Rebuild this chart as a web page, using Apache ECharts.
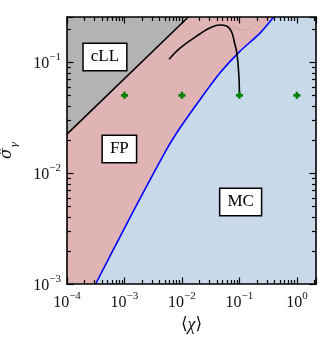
<!DOCTYPE html>
<html>
<head>
<meta charset="utf-8">
<script src="https://cdn.jsdelivr.net/npm/echarts@6/dist/echarts.min.js"></script>
<style>
html, body { margin: 0; padding: 0; background: #fff; }
#chart { width: 332px; height: 349px; }
</style>
</head>
<body>
<div id="chart"></div>
<script>
var X_MIN = 1e-4, X_MAX = 2.15, Y_MIN = 1e-3, Y_MAX = 0.254;

// cLL boundary (black straight line)
var cllX = [1e-4, 0.0129];
var cllY = [0.0224, 0.254];

// FP / MC boundary (blue curve)
var mcX = [3.15e-4, 1.09e-3, 5.38e-3, 9.16e-3, 0.0204, 0.0453, 0.1007, 0.2244, 0.395];
var mcY = [1.0e-3, 3.47e-3, 0.0162, 0.0253, 0.0455, 0.0791, 0.124, 0.18, 0.254];

// black trajectory ending at the marker (0.1, 0.05)
var pathX = [5.97e-3, 9.16e-3, 0.0204, 0.0304, 0.0453, 0.060, 0.0733, 0.0826, 0.0905, 0.098, 0.1];
var pathY = [0.1057, 0.1327, 0.1786, 0.2023, 0.2155, 0.211, 0.186, 0.147, 0.1197, 0.0738, 0.05];

// faint contour near the top
var faintX = [0.0676, 0.09, 0.123, 0.16, 0.199];
var faintY = [0.215, 0.2, 0.194, 0.205, 0.234];

// green markers
var pointX = [1e-3, 1e-2, 1e-1, 1];
var pointY = [0.05, 0.05, 0.05, 0.05];

// region labels
var regionNames = ['cLL', 'FP', 'MC'];
var regionX = [4.57e-4, 8.15e-4, 0.105];
var regionY = [0.111, 0.01644, 5.48e-3];

// tick positions
var xMajor = [1e-4, 1e-3, 1e-2, 1e-1, 1];
var yMajor = [1e-3, 1e-2, 1e-1];
var xMinor = [], yMinor = [];
for (var d = -4; d <= 0; d++) {
    for (var k = 2; k <= 9; k++) {
        var v = k * Math.pow(10, d);
        if (v < X_MAX) xMinor.push(v);
    }
}
for (var d2 = -3; d2 <= -1; d2++) {
    for (var k2 = 2; k2 <= 9; k2++) {
        var v2 = k2 * Math.pow(10, d2);
        if (v2 < Y_MAX) yMinor.push(v2);
    }
}

function zip(a, b) {
    return a.map(function (x, i) { return [x, b[i]]; });
}

var FONT = '"Liberation Serif", "DejaVu Serif", serif';

function powLabel(val) {
    var e = Math.log10(val);
    var r = Math.round(e);
    if (Math.abs(e - r) > 1e-6) return '';
    return '{b|10}{s|' + String(r).replace('-', '\u2212') + '}';
}

var labelRich = {
    b: { fontSize: 16, fontFamily: FONT, color: '#111', lineHeight: 20, verticalAlign: 'bottom' },
    s: { fontSize: 11, fontFamily: FONT, color: '#111', lineHeight: 12, verticalAlign: 'top' }
};

var MINOR_LEN = 4;

// one short line per minor tick; side gives the edge and direction
function minorTickSeries(values, side) {
    var horiz = side === 'bottom' || side === 'top';
    return {
        type: 'custom', z: 20, clip: false, silent: true,
        data: values.map(function (val) {
            return horiz ? [val, side === 'bottom' ? Y_MIN : Y_MAX]
                         : [side === 'left' ? X_MIN : X_MAX, val];
        }),
        renderItem: function (params, api) {
            var val = values[params.dataIndex];
            var p, shape;
            if (horiz) {
                p = api.coord([val, side === 'bottom' ? Y_MIN : Y_MAX]);
                var x = Math.round(p[0]) + 0.5;
                var dy = side === 'bottom' ? -MINOR_LEN : MINOR_LEN;
                shape = { x1: x, y1: p[1], x2: x, y2: p[1] + dy };
            } else {
                p = api.coord([side === 'left' ? X_MIN : X_MAX, val]);
                var y = Math.round(p[1]) + 0.5;
                var dx = side === 'left' ? MINOR_LEN : -MINOR_LEN;
                shape = { x1: p[0], y1: y, x2: p[0] + dx, y2: y };
            }
            return { type: 'line', shape: shape, style: { stroke: '#000', lineWidth: 1.2 } };
        }
    };
}

var dom = document.getElementById('chart');
var myChart = echarts.init(dom, null, { renderer: 'canvas' });

function makeAxis(kind, position, extra) {
    var base = {
        type: 'log',
        logBase: 10,
        z: 10,
        position: position,
        min: kind === 'x' ? X_MIN : Y_MIN,
        max: kind === 'x' ? X_MAX : Y_MAX,
        splitLine: { show: false },
        axisLine: { show: true, onZero: false, lineStyle: { color: '#000', width: 1.6 } },
        axisTick: { show: true, inside: true, length: 6.5, lineStyle: { color: '#000', width: 1.2 } },
        axisLabel: { show: false }
    };
    return Object.assign(base, extra || {});
}

var option = {
    animation: false,
    grid: {
        left: 67, right: 16, top: 17, bottom: 65,
        outerBoundsMode: 'none',
        containLabel: false,
        show: true, backgroundColor: '#e0b4b4', borderWidth: 0
    },
    xAxis: [
        makeAxis('x', 'bottom', {
            name: '{a|\u27E8}{c|\u03C7}{a|\u27E9}',
            nameLocation: 'middle', nameGap: 27,
            nameTextStyle: {
                rich: {
                    a: { fontSize: 17, fontFamily: FONT, color: '#111' },
                    c: { fontSize: 18, fontFamily: FONT, fontStyle: 'italic', color: '#111' }
                }
            },
            axisLabel: {
                show: true, margin: 7, formatter: powLabel, rich: labelRich,
                customValues: xMajor
            }
        }),
        makeAxis('x', 'top')
    ],
    yAxis: [
        makeAxis('y', 'left', {
            name: '{s|\u03C3\u0302}{g|\u03B3}',
            nameLocation: 'middle', nameGap: 48, nameRotate: 90,
            nameTextStyle: {
                rich: {
                    s: { fontSize: 16, fontFamily: '"DejaVu Serif", serif', fontStyle: 'italic', color: '#111', lineHeight: 20, verticalAlign: 'top' },
                    g: { fontSize: 10, fontFamily: '"DejaVu Serif", serif', fontStyle: 'italic', color: '#111', lineHeight: 20, verticalAlign: 'bottom' }
                }
            },
            axisLabel: {
                show: true, margin: 6, formatter: powLabel, rich: labelRich,
                customValues: yMajor
            }
        }),
        makeAxis('y', 'right')
    ],
    series: [
        {
            // MC region fill
            type: 'line', z: 1, symbol: 'none', smooth: 0.2,
            data: zip(mcX, mcY).concat([[X_MAX, Y_MAX]]),
            lineStyle: { width: 0 },
            areaStyle: { color: '#c8d9e9', opacity: 1, origin: 'start' }
        },
        {
            // cLL region fill + boundary
            type: 'line', z: 3, symbol: 'none',
            data: zip(cllX, cllY),
            lineStyle: { color: '#000', width: 1.6 },
            areaStyle: { color: '#b3b3b3', opacity: 1, origin: 'end' }
        },
        {
            type: 'line', z: 3, symbol: 'none', smooth: 0.2,
            data: zip(mcX, mcY),
            lineStyle: { color: '#0000ff', width: 1.6 }
        },
        {
            type: 'line', z: 2, symbol: 'none', smooth: 0.4,
            data: zip(faintX, faintY),
            lineStyle: { color: 'rgba(190,150,150,0.6)', width: 1 }
        },
        {
            type: 'line', z: 4, symbol: 'none', smooth: 0.4,
            data: zip(pathX, pathY),
            lineStyle: { color: '#000', width: 1.6 }
        },
        {
            type: 'scatter', z: 5,
            symbol: 'path://M2.5,0 H5.5 V2.5 H8 V5.5 H5.5 V8 H2.5 V5.5 H0 V2.5 H2.5 Z',
            symbolSize: 7,
            itemStyle: { color: '#008000', opacity: 1 },
            data: zip(pointX, pointY)
        },
        {
            type: 'scatter', z: 6, symbolSize: 0,
            itemStyle: { color: '#fff', opacity: 1 },
            label: {
                show: true, position: 'inside',
                formatter: '{b}',
                fontFamily: FONT, fontSize: 17, color: '#000',
                backgroundColor: '#fff', borderColor: '#000', borderWidth: 1.5,
                padding: [5, 7, 4, 7]
            },
            data: regionNames.map(function (n, i) {
                return { name: n, value: [regionX[i], regionY[i]] };
            })
        },
        minorTickSeries(xMinor, 'bottom'),
        minorTickSeries(xMinor, 'top'),
        minorTickSeries(yMinor, 'left'),
        minorTickSeries(yMinor, 'right')
    ]
};

myChart.setOption(option);
window.addEventListener('resize', myChart.resize);
</script>
</body>
</html>
